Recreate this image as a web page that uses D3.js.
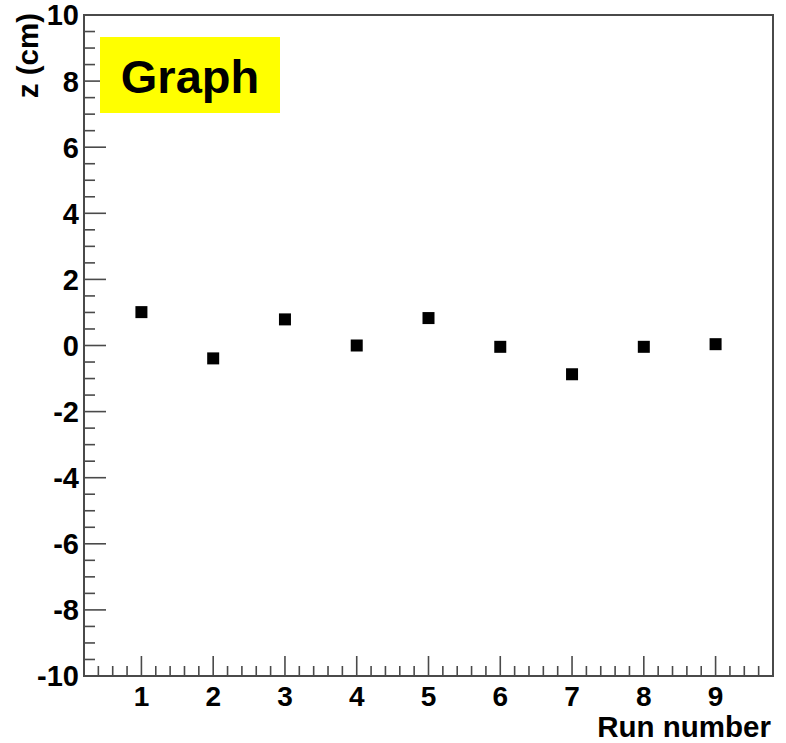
<!DOCTYPE html>
<html>
<head>
<meta charset="utf-8">
<script src="https://cdnjs.cloudflare.com/ajax/libs/d3/7.8.5/d3.min.js"></script>
<style>
  body { margin: 0; background: #fff; }
  text { font-family: "Liberation Sans", Arial, sans-serif; font-weight: bold; }
</style>
</head>
<body>
<div id="chartContainer"></div>
<script>
var runs = [1, 2, 3, 4, 5, 6, 7, 8, 9]
var zValues = [1.01, -0.39, 0.79, 0.0, 0.83, -0.04, -0.87, -0.04, 0.04]
var yTicks = [-10, -8, -6, -4, -2, 0, 2, 4, 6, 8, 10]
var xTicks = [1, 2, 3, 4, 5, 6, 7, 8, 9]
var title = "Graph"

var data = runs.map(function(r, i) { return {run: r, z: zValues[i]} })

var margin = {top: 15, right: 13, bottom: 67, left: 84},
  width = 786 - margin.left - margin.right,
  height = 743 - margin.top - margin.bottom;

var axisColor = "#4a4a4a"

var svg = d3.select("#chartContainer")
  .append("svg")
  .attr("width", 786)
  .attr("height", 743)
  .append("g")
  .attr("transform", "translate(" + margin.left + "," + margin.top + ")");

var x = d3.scaleLinear().domain([0.2, 9.8]).range([0, width])
var y = d3.scaleLinear().domain([-10, 10]).range([height, 0])

// minor ticks
var xMinor = d3.range(0.4, 9.7, 0.2).filter(function(v) { return Math.abs(v - Math.round(v)) > 0.01 })
var yMinor = d3.range(-9.5, 10, 0.5).filter(function(v) { return Math.abs(v / 2 - Math.round(v / 2)) > 0.01 })

svg.selectAll(".xminor")
  .data(xMinor)
  .enter().append("line")
  .attr("x1", d => x(d)).attr("x2", d => x(d))
  .attr("y1", height).attr("y2", height - 10)
  .attr("stroke", axisColor).attr("stroke-width", 1.6)

svg.selectAll(".xmajor")
  .data(xTicks)
  .enter().append("line")
  .attr("x1", d => x(d)).attr("x2", d => x(d))
  .attr("y1", height).attr("y2", height - 20)
  .attr("stroke", axisColor).attr("stroke-width", 1.6)

svg.selectAll(".yminor")
  .data(yMinor)
  .enter().append("line")
  .attr("x1", 0).attr("x2", 11)
  .attr("y1", d => y(d)).attr("y2", d => y(d))
  .attr("stroke", axisColor).attr("stroke-width", 1.6)

svg.selectAll(".ymajor")
  .data(yTicks)
  .enter().append("line")
  .attr("x1", 0).attr("x2", 22)
  .attr("y1", d => y(d)).attr("y2", d => y(d))
  .attr("stroke", axisColor).attr("stroke-width", 1.6)

// frame
svg.append("rect")
  .attr("width", width).attr("height", height)
  .attr("fill", "none")
  .attr("stroke", axisColor).attr("stroke-width", 2)

// tick labels
svg.selectAll(".xlab")
  .data(xTicks)
  .enter().append("text")
  .attr("x", d => x(d))
  .attr("y", height + 30)
  .attr("text-anchor", "middle")
  .attr("font-size", 28)
  .text(d => d)

svg.selectAll(".ylab")
  .data(yTicks)
  .enter().append("text")
  .attr("x", -5)
  .attr("y", d => y(d))
  .attr("dy", "0.36em")
  .attr("text-anchor", "end")
  .attr("font-size", 29)
  .text(d => d)

// axis titles
svg.append("text")
  .attr("x", width - 2)
  .attr("y", height + 61)
  .attr("text-anchor", "end")
  .attr("font-size", 29.5)
  .text("Run number")

svg.append("text")
  .attr("transform", "translate(-46,-2)rotate(-90)")
  .attr("text-anchor", "end")
  .attr("font-size", 29.5)
  .text("z (cm)")

// points
svg.selectAll("myRect")
  .data(data)
  .enter()
  .append("rect")
  .attr("x", d => x(d.run) - 6)
  .attr("y", d => y(d.z) - 6)
  .attr("width", 12)
  .attr("height", 12)
  .attr("fill", "#000")

// title box
svg.append("rect")
  .attr("x", 16).attr("y", 22)
  .attr("width", 180).attr("height", 76)
  .attr("fill", "#ffff00")

svg.append("text")
  .attr("x", 106)
  .attr("y", 78)
  .attr("text-anchor", "middle")
  .attr("font-size", 47)
  .text(title)
</script>
</body>
</html>
